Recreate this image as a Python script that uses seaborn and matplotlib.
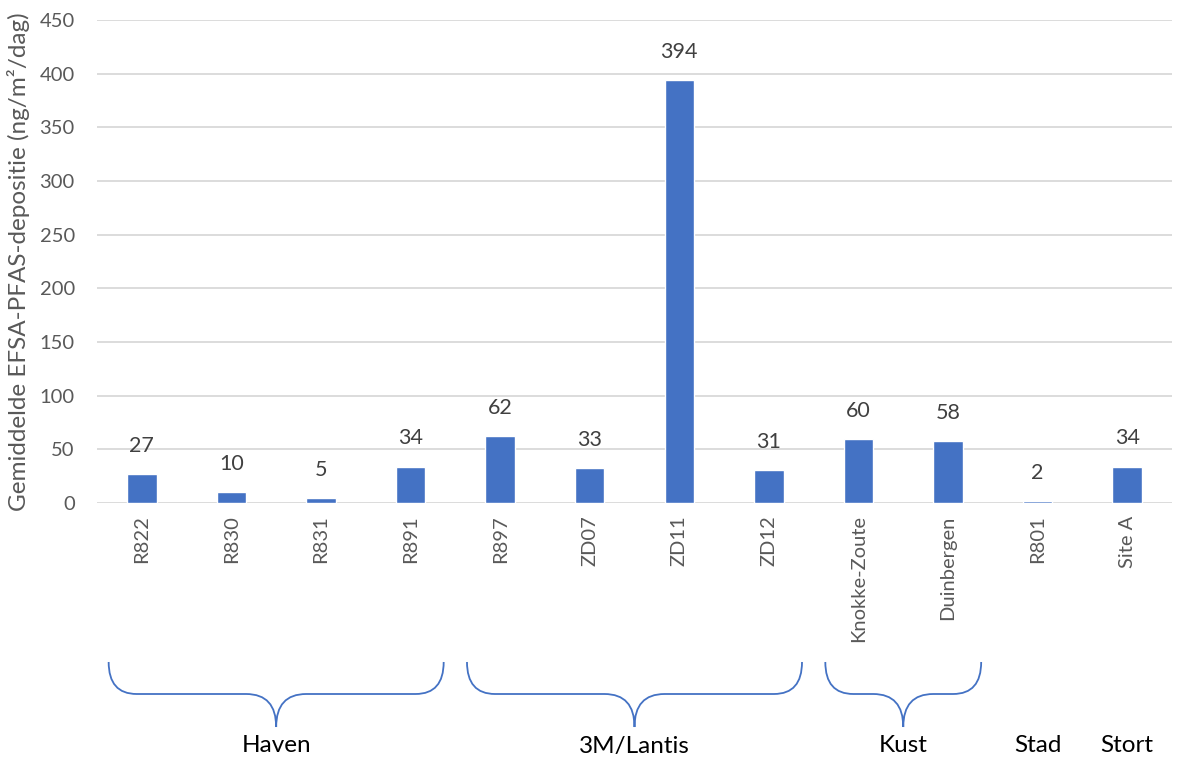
import seaborn as sns
import pandas as pd
import matplotlib.pyplot as plt
from matplotlib.path import Path
from matplotlib.patches import PathPatch

stations = ["R822", "R830", "R831", "R891", "R897", "ZD07", "ZD11", "ZD12",
            "Knokke-Zoute", "Duinbergen", "R801", "Site A"]
deposition = [27, 10, 5, 34, 62, 33, 394, 31, 60, 58, 2, 34]
# group name, first station index, last station index, draw brace
groups = [("Haven", 0, 3, True), ("3M/Lantis", 4, 7, True), ("Kust", 8, 9, True),
          ("Stad", 10, 10, False), ("Stort", 11, 11, False)]
yticks = [0, 50, 100, 150, 200, 250, 300, 350, 400, 450]

df = pd.DataFrame({"station": stations, "value": deposition})

sns.set_style("white")
plt.rcParams["font.family"] = ["Lato", "DejaVu Sans"]
grey = "#595959"
blue = "#4472C4"

W, H = 1178, 760
fig = plt.figure(figsize=(W / 100, H / 100), dpi=100)
ax = fig.add_axes([97 / W, 1 - 503 / H, (1172 - 97) / W, (503 - 20) / H])

sns.barplot(x="station", y="value", data=df, color=blue, saturation=1,
            width=0.33, ax=ax)
ax.set_ylim(0, 450)
ax.set_xlim(-0.5, len(stations) - 0.5)
ax.set_yticks(yticks)
ax.yaxis.grid(True, color="#d9d9d9", linewidth=1.3)
ax.set_axisbelow(True)
for s in ax.spines.values():
    s.set_visible(False)
ax.tick_params(axis="both", length=0, labelsize=14.5, labelcolor=grey)
ax.tick_params(axis="y", pad=16)
ax.tick_params(axis="x", pad=9)
plt.setp(ax.get_xticklabels(), rotation=90)
ax.set_xlabel("")
ax.set_ylabel("Gemiddelde EFSA-PFAS-depositie (ng/m²/dag)", fontsize=17.5,
              color=grey)
ax.yaxis.set_label_coords(-0.062, 0.5)

for i, v in enumerate(deposition):
    ax.annotate(f"{v:.0f}", (i, v), xytext=(0, 13), textcoords="offset points",
                ha="center", va="bottom", fontsize=15.5, color="#404040")


def fx(xd):
    return ax.transData.transform((xd, 0))[0] / W


def fy(ypix):
    return 1 - ypix / H


def brace(x0, x1, ytop=662, ymid=694, ytip=727, r=28, rc=30):
    xm = (x0 + x1) / 2
    verts = [(x0, ytop), (x0, ymid), (x0 + r, ymid),
             (xm - rc, ymid),
             (xm, ymid), (xm, ytip),
             (xm, ymid), (xm + rc, ymid),
             (x1 - r, ymid),
             (x1, ymid), (x1, ytop)]
    codes = [Path.MOVETO, Path.CURVE3, Path.CURVE3,
             Path.LINETO,
             Path.CURVE3, Path.CURVE3,
             Path.CURVE3, Path.CURVE3,
             Path.LINETO,
             Path.CURVE3, Path.CURVE3]
    verts = [(vx / W, fy(vy)) for vx, vy in verts]
    return PathPatch(Path(verts, codes), fill=False, edgecolor=blue,
                     linewidth=1.3, transform=fig.transFigure)


fig.canvas.draw()
for name, a, b, has_brace in groups:
    center = fx((a + b) / 2) * W
    if has_brace:
        fig.add_artist(brace(fx(a - 0.37) * W, fx(b + 0.37) * W))
    fig.text(center / W, fy(746), name, ha="center", va="center",
             fontsize=17.5, color="black")

fig.savefig("out.png", dpi=100)
